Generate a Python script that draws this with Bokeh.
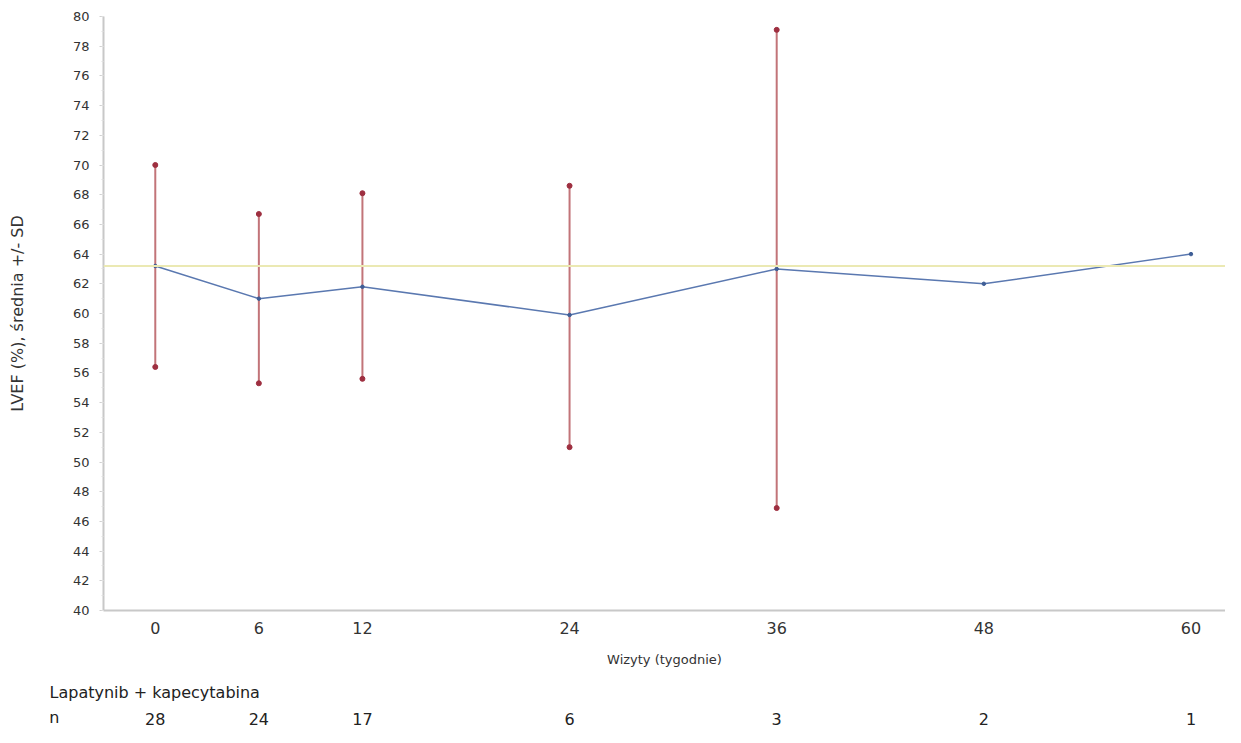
from bokeh.plotting import figure
from bokeh.layouts import column
from bokeh.models import Range1d, Span, FixedTicker, ColumnDataSource
from bokeh.core.properties import value
from bokeh.embed import file_html
from bokeh.resources import INLINE
import numpy as np

# ---- data ----
weeks = [0, 6, 12, 24, 36, 48, 60]
mean_lvef = [63.2, 61.0, 61.8, 59.9, 63.0, 62.0, 64.0]
upper_sd = [70.0, 66.7, 68.1, 68.6, 79.1, None, None]
lower_sd = [56.4, 55.3, 55.6, 51.0, 46.9, None, None]
n_patients = [28, 24, 17, 6, 3, 2, 1]
y_ticks = list(range(40, 81, 2))
group_label = "Lapatynib + kapecytabina"

FONT = "DejaVu Sans"
W = 1225
H1, H2 = 672, 55
LEFT, TOP = 103, 16
X0, X1 = -3.0, 62.0
Y0, Y1 = 40, 80

up = np.array([np.nan if v is None else v for v in upper_sd], dtype=float)
lo = np.array([np.nan if v is None else v for v in lower_sd], dtype=float)
has_bar = ~np.isnan(up)
wk = np.array(weeks, dtype=float)

p = figure(width=W, height=H1, output_backend="svg", toolbar_location=None,
           x_range=Range1d(X0, X1), y_range=Range1d(Y0, Y1),
           min_border_left=LEFT, min_border_right=0, min_border_top=TOP,
           min_border_bottom=H1 - 610)
p.outline_line_color = None
p.grid.visible = False
p.background_fill_color = "white"

# baseline reference line
p.add_layout(Span(location=mean_lvef[0], dimension="width",
                  line_color="#ebe9b3", line_width=2))

# error bars
p.segment(x0=wk[has_bar], y0=lo[has_bar], x1=wk[has_bar], y1=up[has_bar],
          line_color="#c27479", line_width=2)
p.scatter(x=np.concatenate([wk[has_bar], wk[has_bar]]),
          y=np.concatenate([up[has_bar], lo[has_bar]]),
          size=5, color="#9e2f40")

# mean line
p.line(weeks, mean_lvef, line_color="#5a78b0", line_width=1.5)
p.scatter(weeks, mean_lvef, size=3.5, color="#3f5e96")

# axes
p.xaxis.ticker = FixedTicker(ticks=weeks)
p.xaxis.major_label_text_font = FONT
p.xaxis.major_label_text_font_size = "16px"
p.xaxis.major_label_text_color = "#333333"
p.xaxis.major_tick_out = 0
p.xaxis.major_tick_in = 0
p.xaxis.minor_tick_out = 0
p.xaxis.minor_tick_in = 0
p.xaxis.major_label_standoff = 11
p.xaxis.axis_line_color = "#c8c8c8"
p.xaxis.axis_line_width = 2
p.xaxis.axis_label = "Wizyty (tygodnie)"
p.xaxis.axis_label_text_font = FONT
p.xaxis.axis_label_text_font_size = "13px"
p.xaxis.axis_label_text_font_style = "normal"
p.xaxis.axis_label_text_color = "#333333"
p.xaxis.axis_label_standoff = 15

p.yaxis.ticker = FixedTicker(ticks=y_ticks, minor_ticks=list(range(40, 81)))
p.yaxis.major_label_text_font = FONT
p.yaxis.major_label_text_font_size = "13px"
p.yaxis.major_label_text_color = "#333333"
p.yaxis.major_tick_out = 4
p.yaxis.major_tick_in = 0
p.yaxis.minor_tick_out = 2
p.yaxis.minor_tick_in = 0
p.yaxis.major_tick_line_color = "#d0d0d0"
p.yaxis.minor_tick_line_color = "#e0e0e0"
p.yaxis.major_label_standoff = 10
p.yaxis.axis_line_color = "#c8c8c8"
p.yaxis.axis_line_width = 2
p.yaxis.axis_label = "LVEF (%), średnia +/- SD"
p.yaxis.axis_label_text_font = FONT
p.yaxis.axis_label_text_font_size = "16px"
p.yaxis.axis_label_text_font_style = "normal"
p.yaxis.axis_label_text_color = "#333333"
p.yaxis.axis_label_standoff = 43

# ---- lower panel: group label and n-row on the same week scale ----
N_ROW = 16
q = figure(width=W, height=H2, output_backend="svg", toolbar_location=None,
           x_range=p.x_range, y_range=Range1d(H2 - 30, 0),
           x_axis_location=None, y_axis_location="left",
           min_border_left=LEFT, min_border_right=0, min_border_top=30,
           min_border_bottom=0, title=group_label)
q.grid.visible = False
q.outline_line_color = None
q.title.align = "left"
q.title.offset = -(LEFT - 49)
q.title.standoff = 2
q.title.text_font = FONT
q.title.text_font_size = "16px"
q.title.text_font_style = "normal"
q.title.text_color = "#222222"

q.yaxis.ticker = FixedTicker(ticks=[N_ROW])
q.yaxis.major_label_overrides = {N_ROW: "n"}
q.yaxis.major_label_text_font = FONT
q.yaxis.major_label_text_font_size = "16px"
q.yaxis.major_label_text_color = "#222222"
q.yaxis.major_label_standoff = LEFT - 59
q.yaxis.major_tick_out = 0
q.yaxis.major_tick_in = 0
q.yaxis.minor_tick_out = 0
q.yaxis.minor_tick_in = 0
q.yaxis.axis_line_color = None

src = ColumnDataSource(dict(x=weeks, y=[N_ROW] * len(weeks),
                            t=[str(v) for v in n_patients]))
q.text(x="x", y="y", text="t", source=src,
       text_font=value(FONT), text_font_size="16px", text_color="#222222",
       text_align="center", text_baseline="middle")

layout = column(p, q, spacing=0)
open("out.html", "w").write(file_html(layout, INLINE))
